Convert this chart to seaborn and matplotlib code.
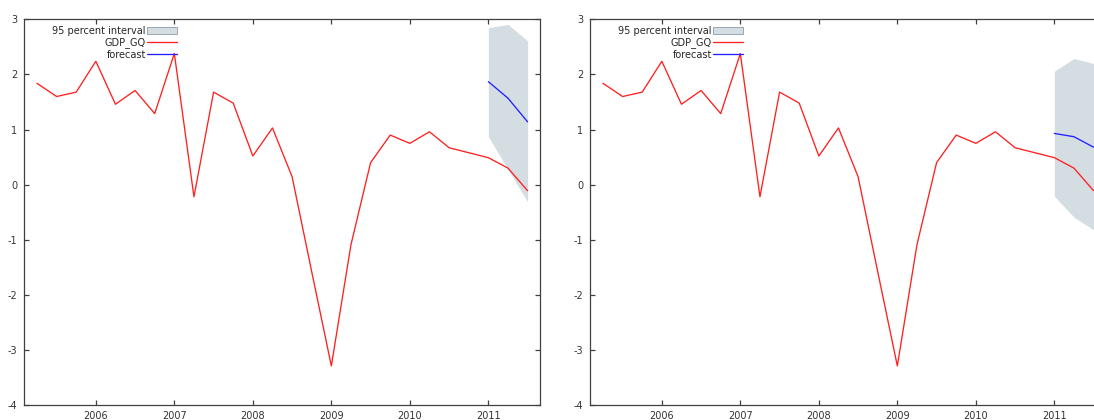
import matplotlib
matplotlib.use("Agg")
import matplotlib.pyplot as plt
from matplotlib.patches import Patch
from matplotlib.lines import Line2D
import seaborn as sns

# Quarterly observations (decimal years) and GDP growth
quarters = [2005.25, 2005.5, 2005.75,
            2006.0, 2006.25, 2006.5, 2006.75,
            2007.0, 2007.25, 2007.5, 2007.75,
            2008.0, 2008.25, 2008.5, 2008.75,
            2009.0, 2009.25, 2009.5, 2009.75,
            2010.0, 2010.25, 2010.5, 2010.75,
            2011.0, 2011.25, 2011.5]
gdp_gq = [1.84, 1.60, 1.68,
          2.24, 1.46, 1.71, 1.29,
          2.38, -0.22, 1.68, 1.48,
          0.52, 1.03, 0.145, -1.58,
          -3.29, -1.09, 0.40, 0.90,
          0.75, 0.96, 0.67, 0.58,
          0.49, 0.30, -0.11]

# Forecast horizon
fc_quarters = [2011.0, 2011.25, 2011.5]

# Model A forecast and 95 percent interval
fc_a = [1.87, 1.57, 1.14]
lo_a = [0.87, 0.28, -0.31]
hi_a = [2.85, 2.91, 2.61]

# Model B forecast and 95 percent interval
fc_b = [0.93, 0.87, 0.68]
lo_b = [-0.21, -0.59, -0.82]
hi_b = [2.06, 2.29, 2.20]

year_ticks = [2006, 2007, 2008, 2009, 2010, 2011]
value_ticks = [-4, -3, -2, -1, 0, 1, 2, 3]

sns.set_style("ticks")
plt.rcParams["font.family"] = ["DejaVu Sans"]
plt.rcParams["axes.unicode_minus"] = False

RED = "#ff2020"
BLUE = "#2020ff"
BAND = "#d4dde2"
BAND_EDGE = "#8d9ca6"
AXCOL = "#404040"
FS = 7.0

fig = plt.figure(figsize=(10.94, 4.20), dpi=100)
W, H = 1094.0, 420.0
ax_w = 516 / W
ax_b = 15 / H
ax_h = 385.6 / H
ax1 = fig.add_axes([24 / W, ax_b, ax_w, ax_h])
ax2 = fig.add_axes([590 / W, ax_b, ax_w, ax_h])


def draw_panel(ax, fc, lo, hi):
    ax.fill_between(fc_quarters, lo, hi, color=BAND, linewidth=0, zorder=1)
    sns.lineplot(x=quarters, y=gdp_gq, ax=ax, color=RED, linewidth=0.95,
                 sort=False, errorbar=None, zorder=3)
    sns.lineplot(x=fc_quarters, y=fc, ax=ax, color=BLUE, linewidth=0.95,
                 sort=False, errorbar=None, zorder=3)
    ax.set_xlim(2005.085, 2011.658)
    ax.set_ylim(-4, 3)
    ax.set_xticks(year_ticks)
    ax.set_xticklabels([str(y) for y in year_ticks])
    ax.set_yticks(value_ticks)
    ax.set_yticklabels([str(v) for v in value_ticks])
    ax.set_xlabel("")
    ax.set_ylabel("")
    for s in ax.spines.values():
        s.set_visible(True)
        s.set_color(AXCOL)
        s.set_linewidth(0.9)
    ax.tick_params(axis="both", direction="in", length=3.4, width=0.9,
                   color=AXCOL, labelcolor="#333333", labelsize=FS,
                   top=True, right=True, pad=5)
    ax.tick_params(axis="x", pad=4)

    handles = [
        Patch(facecolor=BAND, edgecolor=BAND_EDGE, linewidth=0.6),
        Line2D([], [], color=RED, linewidth=0.95),
        Line2D([], [], color=BLUE, linewidth=0.95),
    ]
    labels = ["95 percent interval", "GDP_GQ", "forecast"]
    ax.legend(handles, labels, loc="upper right",
              bbox_to_anchor=(0.2965, 0.983), markerfirst=False,
              frameon=False, fontsize=FS, handlelength=3.1,
              handleheight=0.7, handletextpad=0.1, labelspacing=0.15,
              borderpad=0, borderaxespad=0)


draw_panel(ax1, fc_a, lo_a, hi_a)
draw_panel(ax2, fc_b, lo_b, hi_b)

fig.savefig("out.png", dpi=100, facecolor="white")
